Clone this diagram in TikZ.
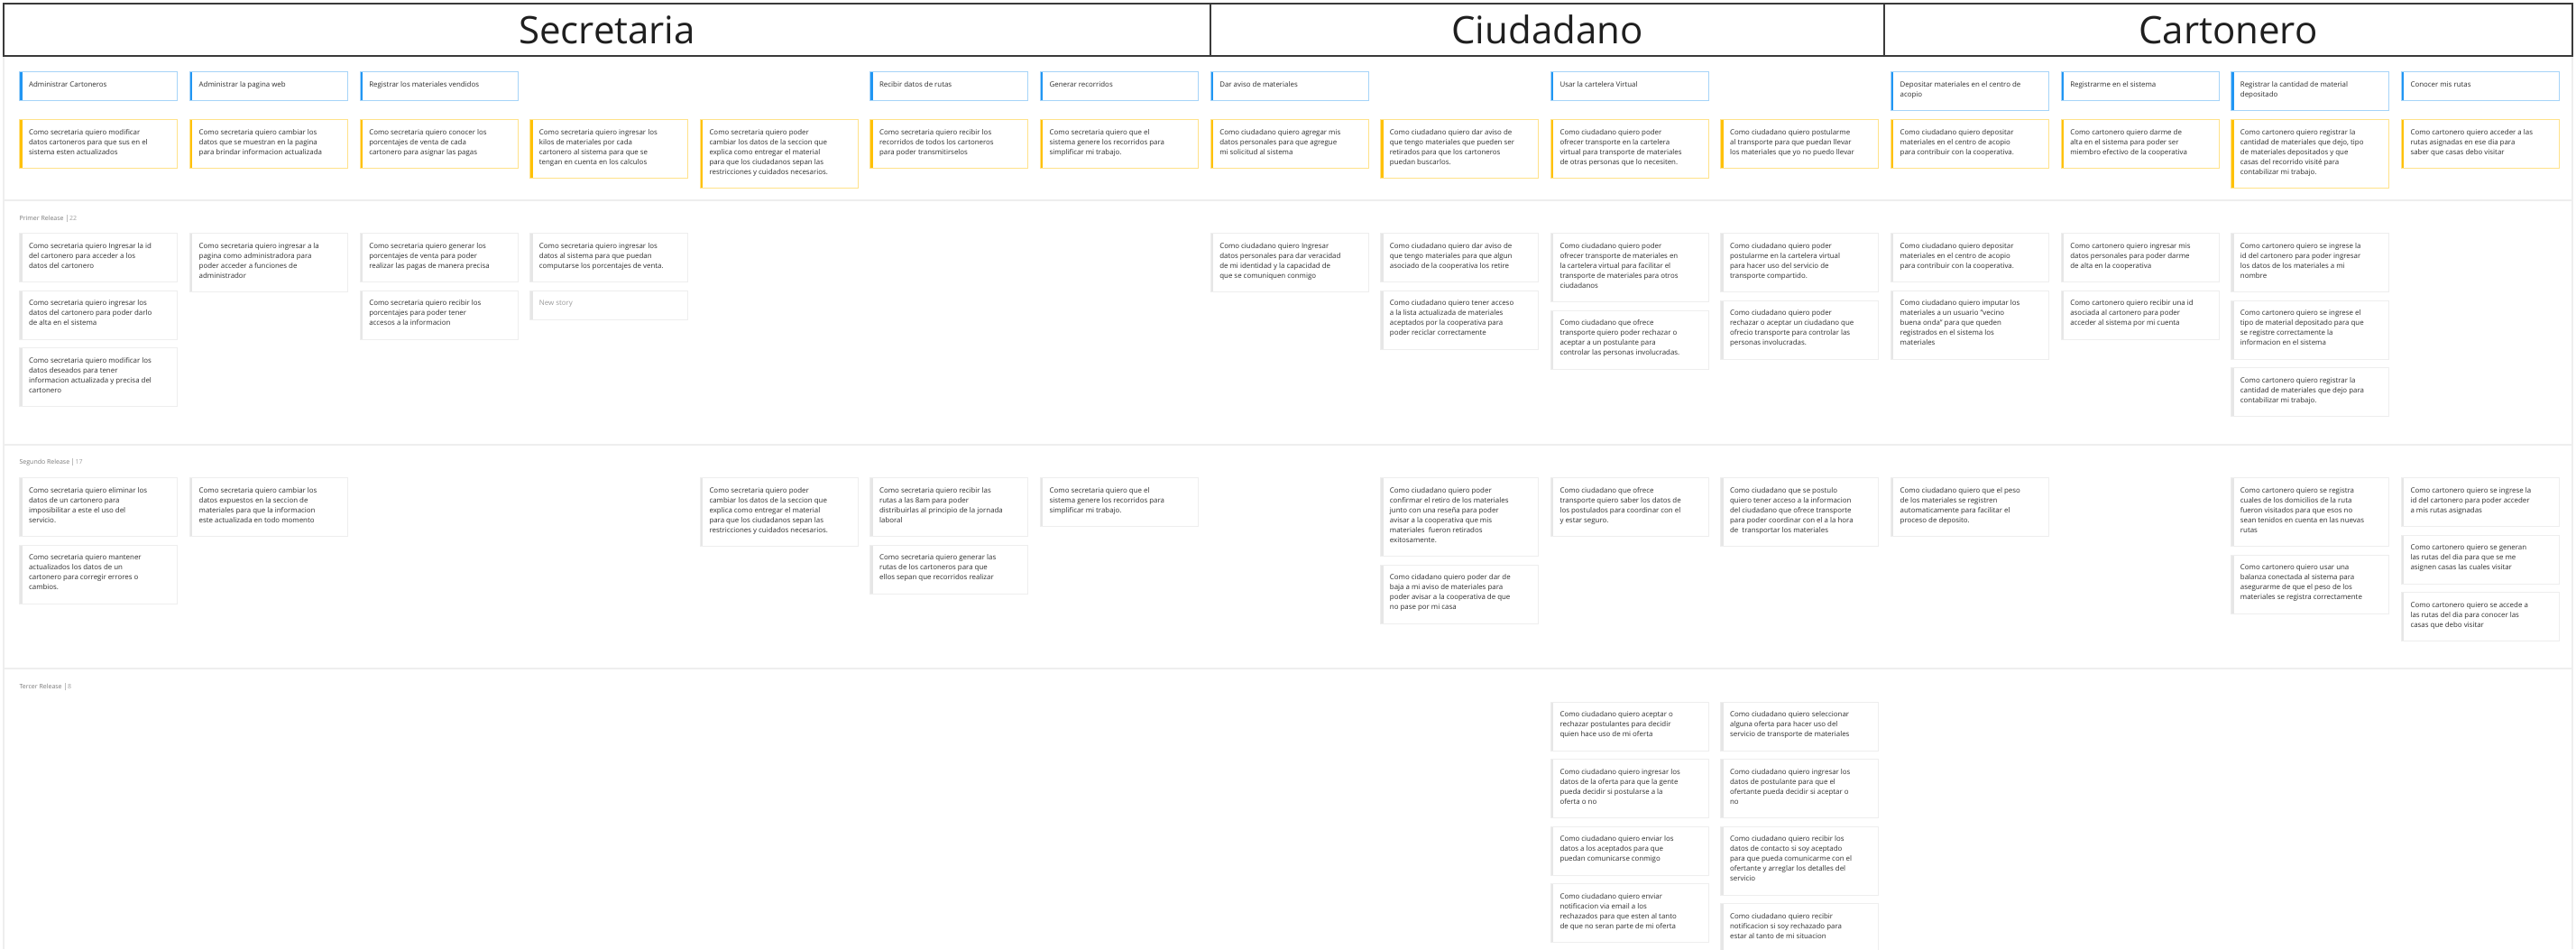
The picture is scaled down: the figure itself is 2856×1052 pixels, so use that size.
\documentclass[tikz,border=0pt]{standalone}
\usepackage{fontspec}
\setmainfont{Open Sans}
\definecolor{bluebd}{HTML}{A6D4F8}
\definecolor{blueac}{HTML}{2196F3}
\definecolor{yelbd}{HTML}{FFE28A}
\definecolor{yelac}{HTML}{FFC107}
\definecolor{graybd}{HTML}{EEEEEE}
\definecolor{grayac}{HTML}{E6E6E6}
\definecolor{txtc}{HTML}{2E2E2E}
\definecolor{hdrc}{HTML}{3A3A3A}
\definecolor{linec}{HTML}{EEEEEE}
\definecolor{lblc}{HTML}{7A7A7A}
\definecolor{numc}{HTML}{A0A0A0}
\definecolor{newc}{HTML}{9A9A9A}
\tikzset{
 cardbox/.style={rectangle, draw=#1bd, fill=white, line width=0.9pt, minimum width=175pt, inner sep=0pt,
   path picture={\fill[#1ac] (path picture bounding box.north west) rectangle ([xshift=3pt]path picture bounding box.south west);}},
 cardtext/.style={inner sep=0pt, align=left, text=txtc, font=\fontsize{7.9}{11}\selectfont},
 hdr/.style={rectangle, draw=hdrc, line width=2pt, minimum height=58pt, inner sep=0pt, text=black!88, font=\fontsize{42}{42}\selectfont},
 rel/.style={inner sep=0pt, anchor=west, text=lblc, font=\fontsize{7}{8}\selectfont},
 sepline/.style={draw=linec, line width=2pt},
}
\newcommand\crd[6]{%
  \node[cardbox=#2, minimum height={11pt*#5+21pt}, anchor=north west] (#1) at ({21.4+188.6*#3},#4) {};
  \node[cardtext, anchor=north west] (#1t) at ([xshift=10.5pt,yshift=-11pt]#1.north west) {#6};%
}
\begin{document}
\begin{tikzpicture}[x=1pt,y=-1pt]
\useasboundingbox (0,0) rectangle (2856,1052);
\fill[white] (0,0) rectangle (2856,1052);
% frame and release separators
\draw[draw=linec, line width=2pt] (3.5,61) -- (3.5,1052);
\draw[draw=linec, line width=2pt] (2852,61) -- (2852,1052);
\draw[sepline] (3.5,222.3) -- (2852,222.3);
\draw[sepline] (3.5,492.7) -- (2852,492.7);
\draw[sepline] (3.5,741.3) -- (2852,741.3);
% headers
\node[hdr, minimum width=1338pt, anchor=north west] (hsec) at (3,3) {Secretaria};
\node[hdr, minimum width=747pt, anchor=north west] (hciu) at (1341,3) {Ciudadano};
\node[hdr, minimum width=763pt, anchor=north west] (hcar) at (2088,3) {Cartonero};
% release labels
\node[rel] (r1) at (21.4,242) {Primer Release\hspace{3pt}{\color{graybd!80!black}\rule[-1.5pt]{0.5pt}{8pt}}\hspace{3pt}{\color{numc}22}};
\node[rel] (r2) at (21.4,512) {Segundo Release\hspace{3pt}{\color{graybd!80!black}\rule[-1.5pt]{0.5pt}{8pt}}\hspace{3pt}{\color{numc}17}};
\node[rel] (r3) at (21.4,761.3) {Tercer Release\hspace{3pt}{\color{graybd!80!black}\rule[-1.5pt]{0.5pt}{8pt}}\hspace{3pt}{\color{numc}8}};
% activities
\crd{a0}{blue}{0}{79.3}{1}{Administrar Cartoneros}
\crd{a1}{blue}{1}{79.3}{1}{Administrar la pagina web}
\crd{a2}{blue}{2}{79.3}{1}{Registrar los materiales vendidos}
\crd{a5}{blue}{5}{79.3}{1}{Recibir datos de rutas}
\crd{a6}{blue}{6}{79.3}{1}{Generar recorridos}
\crd{a7}{blue}{7}{79.3}{1}{Dar aviso de materiales}
\crd{a9}{blue}{9}{79.3}{1}{Usar la cartelera Virtual}
\crd{a11}{blue}{11}{79.3}{2}{Depositar materiales en el centro de\\acopio}
\crd{a12}{blue}{12}{79.3}{1}{Registrarme en el sistema}
\crd{a13}{blue}{13}{79.3}{2}{Registrar la cantidad de material\\depositado}
\crd{a14}{blue}{14}{79.3}{1}{Conocer mis rutas}
% stories
\crd{s0}{yel}{0}{132.3}{3}{Como secretaria quiero modificar\\datos cartoneros para que sus en el\\sistema esten actualizados}
\crd{s1}{yel}{1}{132.3}{3}{Como secretaria quiero cambiar los\\datos que se muestran en la pagina\\para brindar informacion actualizada}
\crd{s2}{yel}{2}{132.3}{3}{Como secretaria quiero conocer los\\porcentajes de venta de cada\\cartonero para asignar las pagas}
\crd{s3}{yel}{3}{132.3}{4}{Como secretaria quiero ingresar los\\kilos de materiales por cada\\cartonero al sistema para que se\\tengan en cuenta en los calculos}
\crd{s4}{yel}{4}{132.3}{5}{Como secretaria quiero poder\\cambiar los datos de la seccion que\\explica como entregar el material\\para que los ciudadanos sepan las\\restricciones y cuidados necesarios.}
\crd{s5}{yel}{5}{132.3}{3}{Como secretaria quiero recibir los\\recorridos de todos los cartoneros\\para poder transmitirselos}
\crd{s6}{yel}{6}{132.3}{3}{Como secretaria quiero que el\\sistema genere los recorridos para\\simplificar mi trabajo.}
\crd{s7}{yel}{7}{132.3}{3}{Como ciudadano quiero agregar mis\\datos personales para que agregue\\mi solicitud al sistema}
\crd{s8}{yel}{8}{132.3}{4}{Como ciudadano quiero dar aviso de\\que tengo materiales que pueden ser\\retirados para que los cartoneros\\puedan buscarlos.}
\crd{s9}{yel}{9}{132.3}{4}{Como ciudadano quiero poder\\ofrecer transporte en la cartelera\\virtual para transporte de materiales\\de otras personas que lo necesiten.}
\crd{s10}{yel}{10}{132.3}{3}{Como ciudadano quiero postularme\\al transporte para que puedan llevar\\los materiales que yo no puedo llevar}
\crd{s11}{yel}{11}{132.3}{3}{Como ciudadano quiero depositar\\materiales en el centro de acopio\\para contribuir con la cooperativa.}
\crd{s12}{yel}{12}{132.3}{3}{Como cartonero quiero darme de\\alta en el sistema para poder ser\\miembro efectivo de la cooperativa}
\crd{s13}{yel}{13}{132.3}{5}{Como cartonero quiero registrar la\\cantidad de materiales que dejo, tipo\\de materiales depositados y que\\casas del recorrido visité para\\contabilizar mi trabajo.}
\crd{s14}{yel}{14}{132.3}{3}{Como cartonero quiero acceder a las\\rutas asignadas en ese dia para\\saber que casas debo visitar}
% primer release
\crd{p0a}{gray}{0}{258.3}{3}{Como secretaria quiero Ingresar la id\\del cartonero para acceder a los\\datos del cartonero}
\crd{p0b}{gray}{0}{321.7}{3}{Como secretaria quiero ingresar los\\datos del cartonero para poder darlo\\de alta en el sistema}
\crd{p0c}{gray}{0}{385.1}{4}{Como secretaria quiero modificar los\\datos deseados para tener\\informacion actualizada y precisa del\\cartonero}
\crd{p1a}{gray}{1}{258.3}{4}{Como secretaria quiero ingresar a la\\pagina como administradora para\\poder acceder a funciones de\\administrador}
\crd{p2a}{gray}{2}{258.3}{3}{Como secretaria quiero generar los\\porcentajes de venta para poder\\realizar las pagas de manera precisa}
\crd{p2b}{gray}{2}{321.7}{3}{Como secretaria quiero recibir los\\porcentajes para poder tener\\accesos a la informacion}
\crd{p3a}{gray}{3}{258.3}{3}{Como secretaria quiero ingresar los\\datos al sistema para que puedan\\computarse los porcentajes de venta.}
\crd{p3b}{gray}{3}{321.7}{1}{\textcolor{newc}{New story}}
\crd{p7a}{gray}{7}{258.3}{4}{Como ciudadano quiero Ingresar\\datos personales para dar veracidad\\de mi identidad y la capacidad de\\que se comuniquen conmigo}
\crd{p8a}{gray}{8}{258.3}{3}{Como ciudadano quiero dar aviso de\\que tengo materiales para que algun\\asociado de la cooperativa los retire}
\crd{p8b}{gray}{8}{321.7}{4}{Como ciudadano quiero tener acceso\\a la lista actualizada de materiales\\aceptados por la cooperativa para\\poder reciclar correctamente}
\crd{p9a}{gray}{9}{258.3}{5}{Como ciudadano quiero poder\\ofrecer transporte de materiales en\\la cartelera virtual para facilitar el\\transporte de materiales para otros\\ciudadanos}
\crd{p9b}{gray}{9}{343.7}{4}{Como ciudadano que ofrece\\transporte quiero poder rechazar o\\aceptar a un postulante para\\controlar las personas involucradas.}
\crd{p10a}{gray}{10}{258.3}{4}{Como ciudadano quiero poder\\postularme en la cartelera virtual\\para hacer uso del servicio de\\transporte compartido.}
\crd{p10b}{gray}{10}{332.7}{4}{Como ciudadano quiero poder\\rechazar o aceptar un ciudadano que\\ofrecio transporte para controlar las\\personas involucradas.}
\crd{p11a}{gray}{11}{258.3}{3}{Como ciudadano quiero depositar\\materiales en el centro de acopio\\para contribuir con la cooperativa.}
\crd{p11b}{gray}{11}{321.7}{5}{Como ciudadano quiero imputar los\\materiales a un usuario "vecino\\buena onda" para que queden\\registrados en el sistema los\\materiales}
\crd{p12a}{gray}{12}{258.3}{3}{Como cartonero quiero ingresar mis\\datos personales para poder darme\\de alta en la cooperativa}
\crd{p12b}{gray}{12}{321.7}{3}{Como cartonero quiero recibir una id\\asociada al cartonero para poder\\acceder al sistema por mi cuenta}
\crd{p13a}{gray}{13}{258.3}{4}{Como cartonero quiero se ingrese la\\id del cartonero para poder ingresar\\los datos de los materiales a mi\\nombre}
\crd{p13b}{gray}{13}{332.7}{4}{Como cartonero quiero se ingrese el\\tipo de material depositado para que\\se registre correctamente la\\informacion en el sistema}
\crd{p13c}{gray}{13}{407.1}{3}{Como cartonero quiero registrar la\\cantidad de materiales que dejo para\\contabilizar mi trabajo.}
% segundo release
\crd{g0a}{gray}{0}{529.3}{4}{Como secretaria quiero eliminar los\\datos de un cartonero para\\imposibilitar a este el uso del\\servicio.}
\crd{g0b}{gray}{0}{603.7}{4}{Como secretaria quiero mantener\\actualizados los datos de un\\cartonero para corregir errores o\\cambios.}
\crd{g1a}{gray}{1}{529.3}{4}{Como secretaria quiero cambiar los\\datos expuestos en la seccion de\\materiales para que la informacion\\este actualizada en todo momento}
\crd{g4a}{gray}{4}{529.3}{5}{Como secretaria quiero poder\\cambiar los datos de la seccion que\\explica como entregar el material\\para que los ciudadanos sepan las\\restricciones y cuidados necesarios.}
\crd{g5a}{gray}{5}{529.3}{4}{Como secretaria quiero recibir las\\rutas a las 8am para poder\\distribuirlas al principio de la jornada\\laboral}
\crd{g5b}{gray}{5}{603.7}{3}{Como secretaria quiero generar las\\rutas de los cartoneros para que\\ellos sepan que recorridos realizar}
\crd{g6a}{gray}{6}{529.3}{3}{Como secretaria quiero que el\\sistema genere los recorridos para\\simplificar mi trabajo.}
\crd{g8a}{gray}{8}{529.3}{6}{Como ciudadano quiero poder\\confirmar el retiro de los materiales\\junto con una reseña para poder\\avisar a la cooperativa que mis\\materiales\ \ fueron retirados\\exitosamente.}
\crd{g8b}{gray}{8}{625.7}{4}{Como cidadano quiero poder dar de\\baja a mi aviso de materiales para\\poder avisar a la cooperativa de que\\no pase por mi casa}
\crd{g9a}{gray}{9}{529.3}{4}{Como ciudadano que ofrece\\transporte quiero saber los datos de\\los postulados para coordinar con el\\y estar seguro.}
\crd{g10a}{gray}{10}{529.3}{5}{Como ciudadano que se postulo\\quiero tener acceso a la informacion\\del ciudadano que ofrece transporte\\para poder coordinar con el a la hora\\de\ \ transportar los materiales}
\crd{g11a}{gray}{11}{529.3}{4}{Como ciudadano quiero que el peso\\de los materiales se registren\\automaticamente para facilitar el\\proceso de deposito.}
\crd{g13a}{gray}{13}{529.3}{5}{Como cartonero quiero se registra\\cuales de los domicilios de la ruta\\fueron visitados para que esos no\\sean tenidos en cuenta en las nuevas\\rutas}
\crd{g13b}{gray}{13}{614.7}{4}{Como cartonero quiero usar una\\balanza conectada al sistema para\\asegurarme de que el peso de los\\materiales se registra correctamente}
\crd{g14a}{gray}{14}{529.3}{3}{Como cartonero quiero se ingrese la\\id del cartonero para poder acceder\\a mis rutas asignadas}
\crd{g14b}{gray}{14}{592.7}{3}{Como cartonero quiero se generan\\las rutas del dia para que se me\\asignen casas las cuales visitar}
\crd{g14c}{gray}{14}{656.1}{3}{Como cartonero quiero se accede a\\las rutas del dia para conocer las\\casas que debo visitar}
% tercer release
\crd{t9a}{gray}{9}{777.7}{3}{Como ciudadano quiero aceptar o\\rechazar postulantes para decidir\\quien hace uso de mi oferta}
\crd{t9b}{gray}{9}{841.1}{4}{Como ciudadano quiero ingresar los\\datos de la oferta para que la gente\\pueda decidir si postularse a la\\oferta o no}
\crd{t9c}{gray}{9}{915.5}{3}{Como ciudadano quiero enviar los\\datos a los aceptados para que\\puedan comunicarse conmigo}
\crd{t9d}{gray}{9}{978.9}{4}{Como ciudadano quiero enviar\\notificacion via email a los\\rechazados para que esten al tanto\\de que no seran parte de mi oferta}
\crd{t10a}{gray}{10}{777.7}{3}{Como ciudadano quiero seleccionar\\alguna oferta para hacer uso del\\servicio de transporte de materiales}
\crd{t10b}{gray}{10}{841.1}{4}{Como ciudadano quiero ingresar los\\datos de postulante para que el\\ofertante pueda decidir si aceptar o\\no}
\crd{t10c}{gray}{10}{915.5}{5}{Como ciudadano quiero recibir los\\datos de contacto si soy aceptado\\para que pueda comunicarme con el\\ofertante y arreglar los detalles del\\servicio}
\crd{t10d}{gray}{10}{1000.9}{3}{Como ciudadano quiero recibir\\notificacion si soy rechazado para\\estar al tanto de mi situacion}
\end{tikzpicture}
\end{document}
